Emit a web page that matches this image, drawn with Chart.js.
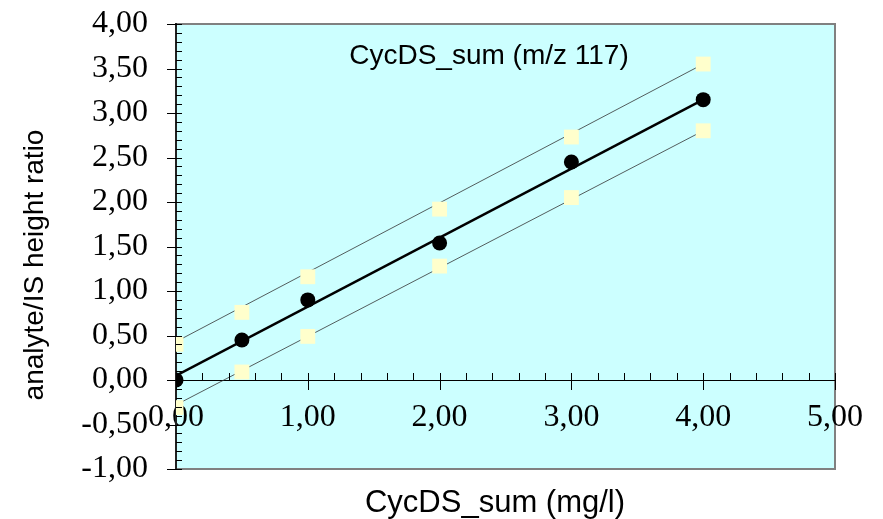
<!DOCTYPE html>
<html lang="en">
<head>
    <meta charset="UTF-8">
    <title>CycDS_sum calibration</title>
    <script src="https://cdn.jsdelivr.net/npm/chart.js"></script>
    <style>
        html, body { margin: 0; padding: 0; background: #ffffff; }
        #wrap { width: 883px; height: 519px; }
    </style>
</head>
<body>
    <div id="wrap"><canvas id="calChart" width="883" height="519"></canvas></div>
    <script>
        // calibration standards (mg/l) and measured ratios
        const concentrations = [0, 0.5, 1, 2, 3, 4];
        const ratios = [0.00, 0.45, 0.90, 1.54, 2.45, 3.15];
        const upperPoints = [0.40, 0.76, 1.16, 1.92, 2.73, 3.55];
        const lowerPoints = [-0.31, 0.09, 0.49, 1.28, 2.05, 2.80];

        // regression line and confidence band ends
        const lineX = [0, 4];
        const fitLine = [0.05, 3.15];
        const upperLine = [0.43, 3.55];
        const lowerLine = [-0.28, 2.80];

        const yTicks = [-1, -0.5, 0, 0.5, 1, 1.5, 2, 2.5, 3, 3.5, 4];
        const xTicks = [0, 1, 2, 3, 4, 5];

        const chartTitle = 'CycDS_sum (m/z 117)';
        const xTitle = 'CycDS_sum (mg/l)';
        const yTitle = 'analyte/IS height ratio';

        const pairs = (xs, ys) => xs.map((x, i) => ({ x: x, y: ys[i] }));
        const fmt = v => Number(v).toFixed(2).replace('.', ',');

        const areaPlugin = {
            id: 'area',
            beforeDraw(chart) {
                const { ctx, chartArea: a } = chart;
                ctx.save();
                ctx.fillStyle = '#ccffff';
                ctx.fillRect(a.left, a.top, a.right - a.left, a.bottom - a.top);
                ctx.strokeStyle = '#808080';
                ctx.lineWidth = 2;
                ctx.strokeRect(a.left, a.top, a.right - a.left, a.bottom - a.top);
                ctx.restore();
            },
            afterDraw(chart) {
                const { ctx, chartArea: a, scales } = chart;
                const xs = scales.x, ys = scales.y;
                const y0 = ys.getPixelForValue(0);
                ctx.save();
                ctx.strokeStyle = '#000';
                ctx.lineWidth = 1;
                ctx.beginPath();
                // y axis ticks: minor every 0.1 inside, major every 0.5 across
                for (let i = -10; i <= 40; i++) {
                    const py = Math.round(ys.getPixelForValue(i / 10)) + 0.5;
                    const major = i % 5 === 0;
                    ctx.moveTo(a.left - (major ? 9 : 0), py);
                    ctx.lineTo(a.left + 6, py);
                }
                // x axis ticks: minor every 0.2 above, major every 1 across
                for (let i = 0; i <= 25; i++) {
                    const px = Math.round(xs.getPixelForValue(i / 5)) + 0.5;
                    const major = i % 5 === 0;
                    ctx.moveTo(px, y0 - 7);
                    ctx.lineTo(px, y0 + (major ? 10 : 0));
                }
                ctx.stroke();

                ctx.fillStyle = '#000';
                ctx.textAlign = 'center';
                ctx.textBaseline = 'alphabetic';
                ctx.font = '28px "Liberation Sans", Arial, sans-serif';
                ctx.fillText(chartTitle, 489, 64);
                ctx.font = '31px "Liberation Sans", Arial, sans-serif';
                ctx.fillText(xTitle, 495, 512);
                ctx.translate(43, 265);
                ctx.rotate(-Math.PI / 2);
                ctx.font = '28px "Liberation Sans", Arial, sans-serif';
                ctx.fillText(yTitle, 0, 0);
                ctx.restore();
            }
        };

        new Chart(document.getElementById('calChart'), {
            type: 'scatter',
            data: {
                datasets: [
                    {
                        label: 'ratio',
                        data: pairs(concentrations, ratios),
                        pointStyle: 'circle',
                        pointRadius: 7.5,
                        backgroundColor: '#000',
                        borderWidth: 0,
                        showLine: false
                    },
                    {
                        label: 'upper',
                        data: pairs(concentrations, upperPoints),
                        pointStyle: 'rect',
                        pointRadius: 10.5,
                        backgroundColor: '#ffffcc',
                        borderWidth: 0,
                        showLine: false
                    },
                    {
                        label: 'lower',
                        data: pairs(concentrations, lowerPoints),
                        pointStyle: 'rect',
                        pointRadius: 10.5,
                        backgroundColor: '#ffffcc',
                        borderWidth: 0,
                        showLine: false
                    },
                    {
                        label: 'fit',
                        data: pairs(lineX, fitLine),
                        showLine: true,
                        borderColor: '#000',
                        borderWidth: 2.5,
                        pointRadius: 0
                    },
                    {
                        label: 'upper band',
                        data: pairs(lineX, upperLine),
                        showLine: true,
                        borderColor: '#333',
                        borderWidth: 0.8,
                        pointRadius: 0
                    },
                    {
                        label: 'lower band',
                        data: pairs(lineX, lowerLine),
                        showLine: true,
                        borderColor: '#333',
                        borderWidth: 0.8,
                        pointRadius: 0
                    }
                ]
            },
            options: {
                responsive: false,
                animation: false,
                layout: { padding: { left: 0, top: 24, right: 48, bottom: 50 } },
                plugins: {
                    legend: { display: false },
                    tooltip: { enabled: false }
                },
                scales: {
                    x: {
                        type: 'linear',
                        position: { y: 0 },
                        min: 0,
                        max: 5,
                        afterBuildTicks: s => { s.ticks = xTicks.map(v => ({ value: v })); },
                        afterFit: s => { s.paddingLeft = 0; s.paddingRight = 0; s.paddingTop = 0; s.paddingBottom = 0; s.height = 0; },
                        ticks: {
                            callback: v => fmt(v),
                            color: '#000',
                            font: { family: '"Liberation Serif", "Times New Roman", serif', size: 32 },
                            padding: 18,
                            maxRotation: 0,
                            autoSkip: false
                        },
                        grid: { display: false, drawTicks: false },
                        border: { display: true, color: '#000', width: 1 }
                    },
                    y: {
                        type: 'linear',
                        position: 'left',
                        min: -1,
                        max: 4,
                        afterBuildTicks: s => { s.ticks = yTicks.map(v => ({ value: v })); },
                        afterFit: s => { s.width = 176; s.paddingTop = 0; s.paddingBottom = 0; },
                        ticks: {
                            callback: v => fmt(v),
                            color: '#000',
                            font: { family: '"Liberation Serif", "Times New Roman", serif', size: 32 },
                            padding: 28,
                            autoSkip: false
                        },
                        grid: { display: false, drawTicks: false },
                        border: { display: true, color: '#222', width: 2 }
                    }
                }
            },
            plugins: [areaPlugin]
        });
    </script>
</body>
</html>
